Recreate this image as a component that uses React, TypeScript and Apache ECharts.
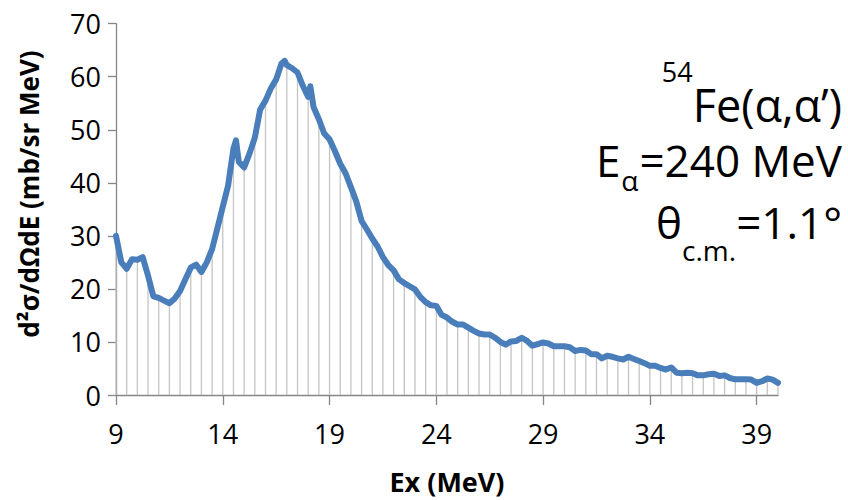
import React, { useEffect, useRef } from "react";
import * as echarts from "echarts";

// Excitation energy (MeV) and double-differential cross section (mb/sr MeV)
const EX_MEV = [
  9.0, 9.25, 9.5, 9.75, 10.0, 10.25, 10.5, 10.75, 11.0, 11.25, 11.5, 11.75,
  12.0, 12.25, 12.5, 12.75, 13.0, 13.25, 13.5, 13.75, 14.0, 14.25, 14.5, 14.62,
  14.75, 15.0, 15.25, 15.5, 15.75, 16.0, 16.25, 16.5, 16.75, 16.9, 17.0, 17.25,
  17.5, 17.75, 18.0, 18.1, 18.25, 18.5, 18.75, 19.0, 19.25, 19.5, 19.75, 20.0,
  20.25, 20.5, 20.75, 21.0, 21.25, 21.5, 21.75, 22.0, 22.25, 22.5, 22.75, 23.0,
  23.25, 23.5, 23.75, 24.0, 24.25, 24.5, 24.75, 25.0, 25.25, 25.5, 25.75, 26.0,
  26.25, 26.5, 26.75, 27.0, 27.25, 27.5, 27.75, 28.0, 28.25, 28.5, 28.75, 29.0,
  29.25, 29.5, 29.75, 30.0, 30.25, 30.5, 30.75, 31.0, 31.25, 31.5, 31.75, 32.0,
  32.25, 32.5, 32.75, 33.0, 33.25, 33.5, 33.75, 34.0, 34.25, 34.5, 34.75, 35.0,
  35.25, 35.5, 35.75, 36.0, 36.25, 36.5, 36.75, 37.0, 37.25, 37.5, 37.75, 38.0,
  38.25, 38.5, 38.75, 39.0, 39.25, 39.5, 39.75, 40.0,
];

const CROSS_SECTION = [
  30.0, 25.0, 23.8, 25.6, 25.5, 26.0, 22.5, 18.6, 18.3, 17.8, 17.3, 18.2,
  19.6, 21.8, 24.0, 24.6, 23.2, 25.0, 27.5, 31.5, 35.5, 39.5, 46.5, 48.0,
  44.0, 42.9, 45.5, 48.5, 53.8, 55.5, 57.8, 59.5, 62.5, 63.0, 62.2, 61.6,
  60.8, 58.3, 56.2, 58.2, 54.3, 52.0, 49.3, 48.2, 46.0, 43.6, 41.8, 39.2,
  36.5, 32.8, 31.2, 29.5, 28.0, 26.0, 24.5, 23.5, 21.8, 21.1, 20.5, 19.9,
  18.5, 17.5, 16.9, 16.8, 15.1, 14.6, 13.8, 13.3, 13.3, 12.7, 12.1, 11.6,
  11.4, 11.4, 10.8, 10.0, 9.5, 10.1, 10.2, 10.8, 10.2, 9.3, 9.6, 9.9,
  9.7, 9.2, 9.2, 9.2, 9.0, 8.3, 8.5, 8.4, 7.7, 7.7, 6.9, 7.4,
  7.2, 6.9, 6.7, 7.2, 6.8, 6.4, 6.0, 5.5, 5.5, 5.1, 4.8, 5.2,
  4.2, 4.1, 4.2, 4.1, 3.7, 3.7, 3.9, 4.0, 3.6, 3.7, 3.2, 2.95,
  2.95, 2.95, 2.9, 2.3, 2.6, 3.1, 2.9, 2.3,
];

const X_TICKS = [9, 14, 19, 24, 29, 34, 39];
const Y_TICKS = [0, 10, 20, 30, 40, 50, 60, 70];

const FONT = "'Open Sans', 'Noto Sans', sans-serif";
const AXIS_GREY = "#868686";

export default function App() {
  const ref = useRef<HTMLDivElement>(null);

  useEffect(() => {
    if (!ref.current) return;
    const chart = echarts.init(ref.current, undefined, { renderer: "svg" });

    const curve = EX_MEV.map((x, i) => [x, CROSS_SECTION[i]]);
    // drop lines on every half-MeV point of the spectrum
    const drops = curve.filter(([x]) => Math.abs(x * 2 - Math.round(x * 2)) < 1e-6);

    chart.setOption({
      animation: false,
      backgroundColor: "#ffffff",
      grid: { left: 116, right: 70, top: 23.7, bottom: 104.3 },
      xAxis: {
        type: "value",
        min: 9,
        max: 40,
        name: "Ex (MeV)",
        nameLocation: "middle",
        nameGap: 73,
        nameTextStyle: { fontFamily: FONT, fontSize: 27, fontWeight: "bold", color: "#000" },
        axisLine: { show: true, lineStyle: { color: AXIS_GREY, width: 1.3 } },
        axisTick: { show: true, length: 10, lineStyle: { color: AXIS_GREY, width: 1.3 }, customValues: X_TICKS },
        axisLabel: {
          customValues: X_TICKS,
          margin: 25,
          fontFamily: FONT,
          fontSize: 27,
          color: "#000",
        },
        splitLine: { show: false },
      },
      yAxis: {
        type: "value",
        min: Y_TICKS[0],
        max: Y_TICKS[Y_TICKS.length - 1],
        interval: 10,
        axisLine: { show: true, lineStyle: { color: AXIS_GREY, width: 1.3 } },
        axisTick: { show: true, length: 8, lineStyle: { color: AXIS_GREY, width: 1.3 } },
        axisLabel: { margin: 15, fontFamily: FONT, fontSize: 27, color: "#000" },
        splitLine: { show: false },
      },
      series: [
        {
          type: "bar",
          data: drops,
          barWidth: 1.3,
          itemStyle: { color: "#c4c4c4" },
          silent: true,
          z: 1,
        },
        {
          type: "line",
          data: curve,
          showSymbol: false,
          lineStyle: { color: "#4a7ebb", width: 6, join: "round", cap: "round" },
          z: 3,
        },
      ],
      graphic: [
        {
          type: "text",
          x: 29,
          y: 194,
          rotation: Math.PI / 2,
          style: {
            text: "d²σ/dΩdE (mb/sr MeV)",
            fontFamily: FONT,
            fontSize: 26,
            fontWeight: "bold",
            fill: "#000",
            align: "center",
            verticalAlign: "middle",
          },
        },
        {
          type: "text",
          x: 842,
          y: 58,
          style: {
            text: "{sup|54}{big|Fe(α,α’)}",
            align: "right",
            verticalAlign: "top",
            rich: {
              sup: { fontFamily: FONT, fontSize: 27, lineHeight: 30, verticalAlign: "top", fill: "#000" },
              big: { fontFamily: FONT, fontSize: 45, lineHeight: 46, padding: [24, 0, 0, 0], verticalAlign: "top", fill: "#000" },
            },
          },
        },
        {
          type: "text",
          x: 842,
          y: 138,
          style: {
            text: "{big|E}{sub|α}{big|=240 MeV}",
            align: "right",
            verticalAlign: "top",
            rich: {
              big: { fontFamily: FONT, fontSize: 44, lineHeight: 46, verticalAlign: "top", fill: "#000" },
              sub: { fontFamily: FONT, fontSize: 28, lineHeight: 28, padding: [28, 1, 0, 1], verticalAlign: "top", fill: "#000" },
            },
          },
        },
        {
          type: "text",
          x: 842,
          y: 200,
          style: {
            text: "{big|θ}{sub|c.m.}{big|=1.1°}",
            align: "right",
            verticalAlign: "top",
            rich: {
              big: { fontFamily: FONT, fontSize: 44, lineHeight: 46, verticalAlign: "top", fill: "#000" },
              sub: { fontFamily: FONT, fontSize: 28, lineHeight: 28, padding: [36, 0, 0, 0], verticalAlign: "top", fill: "#000" },
            },
          },
        },
      ],
    });

    return () => chart.dispose();
  }, []);

  return <div ref={ref} style={{ width: 848, height: 500, position: "absolute", left: 0, top: 0 }} />;
}
